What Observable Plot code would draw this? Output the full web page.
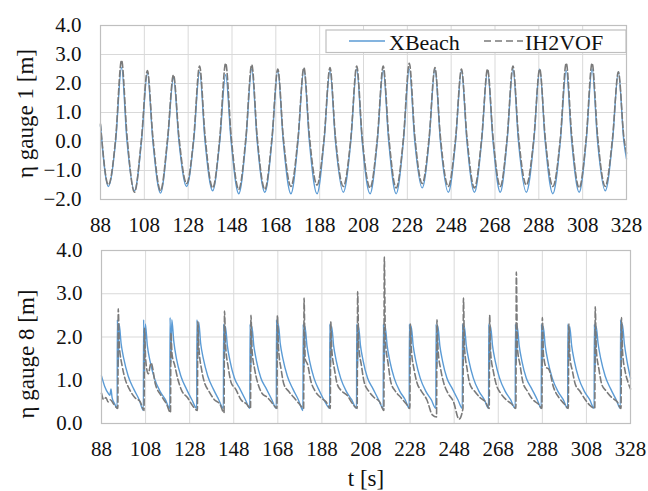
<!DOCTYPE html>
<html><head><meta charset="utf-8">
<script src="https://cdn.jsdelivr.net/npm/d3@7"></script>
<script src="https://cdn.jsdelivr.net/npm/@observablehq/plot@0.6"></script>
<style>
body{margin:0;background:#fff;}
#wrap{position:relative;width:648px;height:491px;overflow:hidden;background:#fff;}
#wrap svg{display:block;}
</style></head><body><div id="wrap"></div>
<script>
// ---- data ----
const xTicks = [88, 108, 128, 148, 168, 188, 208, 228, 248, 268, 288, 308, 328];
const topYTicks = [-2, -1, 0, 1, 2, 3, 4];
const bottomYTicks = [0, 1, 2, 3, 4];
const seriesNames = ["XBeach", "IH2VOF"];
const axisTitles = ["η gauge 1 [m]", "η gauge 8 [m]", "t [s]"];

// gauge 1 (shared time grid: troughs, zero crossings, crests)
const topTime = [
  88, 91.6, 94.9, 97.6, 100.1,
  103.5, 106.7, 109.4, 111.9,
  115.4, 118.6, 121.3, 123.8,
  127.3, 130.5, 133.2, 135.7,
  139.2, 142.4, 145.1, 147.6,
  151.1, 154.3, 157.0, 159.5,
  163.0, 166.2, 168.9, 171.4,
  174.9, 178.1, 180.8, 183.3,
  186.8, 190.0, 192.7, 195.2,
  198.8, 202.2, 204.9, 207.4,
  211.0, 214.3, 217.0, 219.5,
  222.9, 226.2, 228.9, 231.4,
  234.8, 237.9, 240.6, 243.1,
  246.7, 250.0, 252.7, 255.2,
  258.6, 261.9, 264.6, 267.1,
  270.4, 273.5, 276.2, 278.7,
  282.3, 285.7, 288.4, 290.9,
  294.4, 297.8, 300.5, 303.0,
  306.4, 309.6, 312.3, 314.8,
  318.3, 321.6, 324.3, 326.8,
  328
];
const topXBeach = [
  0.55, -1.55, 0.0, 2.55, 0.0,
  -1.7, 0.0, 2.35, 0.0,
  -1.78, 0.0, 2.2, 0.0,
  -1.55, 0.0, 2.4, 0.0,
  -1.7, 0.0, 2.3, 0.0,
  -1.8, 0.0, 2.5, 0.0,
  -1.75, 0.0, 2.45, 0.0,
  -1.8, 0.0, 2.5, 0.0,
  -1.8, 0.0, 2.45, 0.0,
  -1.75, 0.0, 2.5, 0.0,
  -1.8, 0.0, 2.45, 0.0,
  -1.8, 0.0, 2.5, 0.0,
  -1.6, 0.0, 2.5, 0.0,
  -1.75, 0.0, 2.45, 0.0,
  -1.75, 0.0, 2.45, 0.0,
  -1.75, 0.0, 2.5, 0.0,
  -1.75, 0.0, 2.5, 0.0,
  -1.8, 0.0, 2.45, 0.0,
  -1.75, 0.0, 2.5, 0.0,
  -1.7, 0.0, 2.4, 0.0,
  -0.6
];
const topIH2VOF = [
  0.6, -1.5, 0.1, 2.8, 0.2,
  -1.75, 0.1, 2.45, 0.15,
  -1.7, 0.1, 2.3, 0.15,
  -1.45, 0.1, 2.6, 0.2,
  -1.6, 0.1, 2.7, 0.2,
  -1.65, 0.1, 2.65, 0.15,
  -1.65, 0.1, 2.5, 0.15,
  -1.55, 0.1, 2.55, 0.2,
  -1.5, 0.1, 2.55, 0.15,
  -1.55, 0.1, 2.6, 0.15,
  -1.6, 0.1, 2.6, 0.2,
  -1.6, 0.1, 2.7, 0.2,
  -1.45, 0.1, 2.55, 0.15,
  -1.55, 0.1, 2.5, 0.15,
  -1.6, 0.1, 2.5, 0.15,
  -1.55, 0.1, 2.6, 0.2,
  -1.5, 0.1, 2.5, 0.15,
  -1.55, 0.1, 2.7, 0.2,
  -1.6, 0.1, 2.7, 0.2,
  -1.55, 0.1, 2.4, 0.15,
  -0.4
];

// gauge 8
const bottomTimeXBeach = [
  88, 89.5, 91, 91.8, 92.3, 92.8, 94,
  95.1, 95.2, 95.6, 96.0, 96.9, 98.1, 100.1, 102.6, 105.1,
  107.0, 107.1, 107.5, 107.9, 108.8, 110.0, 112.0, 114.5, 117.0,
  119.0, 119.1, 119.5, 119.9, 120.8, 122.0, 124.0, 126.5, 129.0,
  131.2, 131.3, 131.7, 132.1, 133.0, 134.2, 136.2, 138.7, 141.2,
  143.3, 143.4, 143.8, 144.2, 145.1, 146.3, 148.3, 150.8, 153.3,
  155.3, 155.4, 155.8, 156.2, 157.1, 158.3, 160.3, 162.8, 165.3,
  167.3, 167.4, 167.8, 168.2, 169.1, 170.3, 172.3, 174.8, 177.3,
  179.4, 179.5, 179.9, 180.3, 181.2, 182.4, 184.4, 186.9, 189.4,
  191.5, 191.6, 192.0, 192.4, 193.3, 194.5, 196.5, 199.0, 201.5,
  203.7, 203.8, 204.2, 204.6, 205.5, 206.7, 208.7, 211.2, 213.7,
  215.8, 215.9, 216.3, 216.7, 217.6, 218.8, 220.8, 223.3, 225.8,
  227.6, 227.7, 228.1, 228.5, 229.4, 230.6, 232.6, 235.1, 237.6,
  239.7, 239.8, 240.2, 240.6, 241.5, 242.7, 244.7, 247.2, 249.7,
  251.7, 251.8, 252.2, 252.6, 253.5, 254.7, 256.7, 259.2, 261.7,
  263.6, 263.7, 264.1, 264.5, 265.4, 266.6, 268.6, 271.1, 273.6,
  275.7, 275.8, 276.2, 276.6, 277.5, 278.7, 280.7, 283.2, 285.7,
  287.5, 287.6, 288.0, 288.4, 289.3, 290.5, 292.5, 295.0, 297.5,
  299.5, 299.6, 300.0, 300.4, 301.3, 302.5, 304.5, 307.0, 309.5,
  311.5, 311.6, 312.0, 312.4, 313.3, 314.5, 316.5, 319.0, 321.5,
  323.4, 323.5, 323.9, 324.3, 325.2, 326.4, 328
];
const bottomXBeach = [
  1.1, 0.85, 0.7, 0.65, 0.8, 0.6, 0.45,
  0.35, 2.4, 1.3, 2.3, 1.85, 1.5, 1.1, 0.8, 0.55,
  0.3, 2.4, 1.2, 2.3, 1.8, 1.45, 1.05, 0.75, 0.55,
  0.35, 2.45, 1.4, 2.4, 1.9, 1.5, 1.1, 0.8, 0.55,
  0.35, 2.4, 1.5, 2.35, 1.85, 1.5, 1.1, 0.8, 0.55,
  0.35, 2.3, 1.5, 2.25, 1.8, 1.45, 1.05, 0.8, 0.55,
  0.35, 2.3, 1.3, 2.25, 1.8, 1.45, 1.05, 0.8, 0.55,
  0.35, 2.4, 1.5, 2.3, 1.85, 1.5, 1.1, 0.8, 0.55,
  0.3, 2.3, 1.3, 2.25, 1.8, 1.45, 1.05, 0.75, 0.5,
  0.35, 2.3, 1.4, 2.25, 1.8, 1.45, 1.05, 0.75, 0.55,
  0.35, 2.3, 1.3, 2.25, 1.8, 1.45, 1.05, 0.8, 0.55,
  0.35, 2.3, 1.4, 2.25, 1.8, 1.45, 1.05, 0.75, 0.55,
  0.35, 2.3, 1.5, 2.25, 1.8, 1.45, 1.05, 0.75, 0.55,
  0.35, 2.3, 1.3, 2.25, 1.8, 1.45, 1.05, 0.8, 0.55,
  0.35, 2.3, 1.4, 2.25, 1.8, 1.45, 1.05, 0.75, 0.55,
  0.35, 2.3, 1.3, 2.25, 1.8, 1.45, 1.05, 0.75, 0.55,
  0.35, 2.3, 1.4, 2.25, 1.8, 1.45, 1.05, 0.8, 0.55,
  0.35, 2.3, 1.3, 2.25, 1.8, 1.45, 1.05, 0.75, 0.55,
  0.35, 2.3, 1.5, 2.25, 1.8, 1.45, 1.05, 0.75, 0.55,
  0.35, 2.3, 1.3, 2.25, 1.85, 1.5, 1.1, 0.8, 0.55,
  0.35, 2.4, 1.4, 2.3, 1.85, 1.45, 1.05
];
const bottomTimeIH2VOF = [
  88, 89, 90, 91, 92, 93.5,
  95.4, 95.6, 96.1, 97.3, 98.6, 100.6, 103.1, 105.6,
  107.3, 107.5, 108.0, 109.2, 110.5, 112.5, 115.0, 117.5,
  119.3, 119.5, 120.0, 121.2, 122.5, 124.5, 127.0, 129.5,
  131.5, 131.7, 132.2, 133.4, 134.7, 136.7, 139.2, 141.7,
  143.6, 143.8, 144.3, 145.5, 146.8, 148.8, 151.3, 153.8,
  155.6, 155.8, 156.3, 157.5, 158.8, 160.8, 163.3, 165.8,
  167.6, 167.8, 168.3, 169.5, 170.8, 172.8, 175.3, 177.8,
  179.7, 179.9, 180.4, 181.6, 182.9, 184.9, 187.4, 189.9,
  191.8, 192.0, 192.5, 193.7, 195.0, 197.0, 199.5, 202.0,
  204.0, 204.2, 204.7, 205.9, 207.2, 209.2, 211.7, 214.2,
  216.1, 216.3, 216.8, 218.0, 219.3, 221.3, 223.8, 226.3,
  227.9, 228.1, 228.6, 229.8, 231.1, 233.1, 235.6, 238.1,
  240.0, 240.2, 240.7, 241.9, 243.2, 245.2, 247.7, 250.2,
  252.0, 252.2, 252.7, 253.9, 255.2, 257.2, 259.7, 262.2,
  263.9, 264.1, 264.6, 265.8, 267.1, 269.1, 271.6, 274.1,
  276.0, 276.2, 276.7, 277.9, 279.2, 281.2, 283.7, 286.2,
  287.8, 288.0, 288.5, 289.7, 291.0, 293.0, 295.5, 298.0,
  299.8, 300.0, 300.5, 301.7, 303.0, 305.0, 307.5, 310.0,
  311.8, 312.0, 312.5, 313.7, 315.0, 317.0, 319.5, 322.0,
  323.7, 323.9, 324.4, 325.6, 326.9, 328
];
const bottomIH2VOF = [
  0.7, 0.55, 0.6, 0.5, 0.55, 0.45,
  0.35, 2.65, 1.8, 1.35, 1.05, 0.8, 0.6, 0.5,
  0.3, 2.2, 1.5, 1.15, 1.4, 0.9, 0.65, 0.45,
  0.25, 2.1, 1.6, 1.35, 1.05, 0.75, 0.6, 0.4,
  0.3, 2.35, 1.75, 1.25, 0.95, 0.75, 0.55, 0.45,
  0.25, 2.6, 1.8, 1.3, 0.95, 0.8, 0.55, 0.45,
  0.35, 2.5, 1.7, 1.25, 0.95, 0.7, 0.6, 0.45,
  0.35, 2.5, 1.75, 1.25, 0.9, 0.75, 0.6, 0.45,
  0.35, 2.9, 1.5, 1.35, 1.0, 0.75, 0.6, 0.5,
  0.35, 2.35, 1.7, 1.25, 0.9, 0.75, 0.65, 0.45,
  0.35, 3.05, 1.8, 1.35, 0.95, 0.75, 0.6, 0.5,
  0.3, 3.85, 1.9, 1.4, 0.95, 0.75, 0.6, 0.45,
  0.35, 2.3, 1.7, 1.25, 0.95, 0.75, 0.55, 0.2,
  0.15, 2.4, 1.7, 1.25, 0.95, 0.7, 0.5, 0.1,
  0.35, 2.9, 1.75, 1.25, 0.9, 0.75, 0.6, 0.5,
  0.35, 2.5, 1.6, 1.2, 0.9, 0.7, 0.55, 0.45,
  0.35, 3.5, 1.75, 1.35, 0.95, 0.75, 0.55, 0.45,
  0.35, 2.45, 1.6, 1.3, 1.25, 0.85, 0.6, 0.45,
  0.35, 2.3, 1.55, 1.2, 0.9, 0.75, 0.55, 0.4,
  0.35, 2.7, 1.7, 1.25, 0.9, 0.75, 0.6, 0.5,
  0.35, 2.45, 1.65, 1.2, 0.95, 0.8
];

// ---- styling ----
const BLUE = "#5b9bd5", GREY = "#7a7a7a", GRID = "#d9d9d9", FRAME = "#bfbfbf";
const FONT = "'Liberation Serif','Times New Roman',serif";
const toRows = (ts, vs) => ts.map((t, i) => ({t, v: vs[i]}));

function panel({width, height, mL, mR, mT, mB, yDomain, yTicks, xb, ih, title, titleDy, xTitle}) {
  const marks = [
    Plot.gridX(xTicks, {stroke: GRID, strokeOpacity: 1, strokeWidth: 1}),
    Plot.gridY(yTicks, {stroke: GRID, strokeOpacity: 1, strokeWidth: 1}),
    Plot.line(xb, {x: "t", y: "v", stroke: BLUE, strokeWidth: 1.4, curve: "monotone-x"}),
    Plot.line(ih, {x: "t", y: "v", stroke: GREY, strokeWidth: 1.6, strokeDasharray: "6,3", curve: "monotone-x"}),
    Plot.frame({stroke: FRAME, strokeWidth: 1.2}),
    Plot.axisX(xTicks, {tickSize: 0, tickPadding: 18, tickFormat: d => String(d), label: null, fontSize: 21, fill: "#111"}),
    Plot.axisY(yTicks, {tickSize: 0, tickPadding: 19, tickFormat: d3.format(".1f"), label: null, fontSize: 21, fill: "#111"}),
    Plot.text([title], {frameAnchor: "left", dx: -75, dy: titleDy, rotate: -90, fontSize: 23, fill: "#111", textAnchor: "middle", lineAnchor: "middle"})
  ];
  if (xTitle) marks.push(Plot.text([xTitle], {frameAnchor: "bottom", dy: 55, fontSize: 23, fill: "#111", textAnchor: "middle", lineAnchor: "middle"}));
  return Plot.plot({
    width, height, marginLeft: mL, marginRight: mR, marginTop: mT, marginBottom: mB,
    x: {domain: [88, 328]},
    y: {domain: yDomain},
    style: {fontFamily: FONT, fontSize: "21px", background: "white", color: "#111", overflow: "visible"},
    marks
  });
}

const wrap = document.getElementById("wrap");
wrap.appendChild(panel({
  width: 648, height: 240, mL: 100, mR: 22, mT: 25, mB: 41,
  yDomain: [-2, 4], yTicks: topYTicks,
  xb: toRows(topTime, topXBeach), ih: toRows(topTime, topIH2VOF),
  title: axisTitles[0], titleDy: 1
}));
wrap.appendChild(panel({
  width: 648, height: 251, mL: 101, mR: 18, mT: 10, mB: 68,
  yDomain: [0, 4], yTicks: bottomYTicks,
  xb: toRows(bottomTimeXBeach, bottomXBeach), ih: toRows(bottomTimeIH2VOF, bottomIH2VOF),
  title: axisTitles[1], titleDy: 17, xTitle: axisTitles[2]
}));

// legend (inside the top panel)
const ns = "http://www.w3.org/2000/svg";
const lg = document.createElementNS(ns, "svg");
lg.setAttribute("width", 648); lg.setAttribute("height", 60);
lg.style.position = "absolute"; lg.style.left = "0px"; lg.style.top = "0px";
lg.innerHTML = `
  <rect x="326" y="30" width="300" height="22.5" fill="white" stroke="${FRAME}" stroke-width="1.2"/>
  <line x1="349" x2="385" y1="41" y2="41" stroke="${BLUE}" stroke-width="1.4"/>
  <text x="389" y="49.5" font-family="${FONT}" font-size="22" fill="#111">${seriesNames[0]}</text>
  <line x1="484" x2="523" y1="41" y2="41" stroke="${GREY}" stroke-width="1.6" stroke-dasharray="7,4"/>
  <text x="525" y="49.5" font-family="${FONT}" font-size="22" fill="#111">${seriesNames[1]}</text>`;
wrap.appendChild(lg);
</script></body></html>
